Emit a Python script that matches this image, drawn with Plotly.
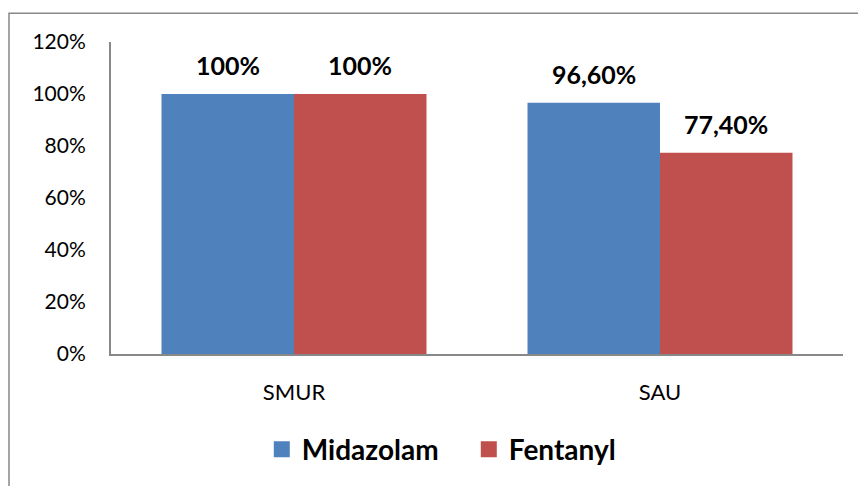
import plotly.graph_objects as go

categories = ["SMUR", "SAU"]
series_names = ["Midazolam", "Fentanyl"]
midazolam = [100, 96.6]
fentanyl = [100, 77.4]
midazolam_labels = ["100%", "96,60%"]
fentanyl_labels = ["100%", "77,40%"]
y_ticks = [0, 20, 40, 60, 80, 100, 120]
y_ticklabels = ["0%", "20%", "40%", "60%", "80%", "100%", "120%"]

BLUE = "#4F81BD"
RED = "#C0504D"
FONT = "Lato"

fig = go.Figure()
fig.add_trace(go.Bar(name=series_names[0], x=categories, y=midazolam, marker_color=BLUE,
                     marker_line_width=0, showlegend=False))
fig.add_trace(go.Bar(name=series_names[1], x=categories, y=fentanyl, marker_color=RED,
                     marker_line_width=0, showlegend=False))
# legend entries with larger square swatches
for name, col in zip(series_names, (BLUE, RED)):
    fig.add_trace(go.Scatter(x=[None], y=[None], mode="markers", name="<b>%s</b>" % name,
                             marker=dict(symbol="square", size=18, color=col), showlegend=True))

annotations = []
for i, c in enumerate(categories):
    for vals, labs, shift in ((midazolam, midazolam_labels, -66), (fentanyl, fentanyl_labels, 66)):
        annotations.append(dict(x=i, y=vals[i], xref="x", yref="y", text="<b>%s</b>" % labs[i],
                                showarrow=False, xshift=shift, yshift=12, yanchor="bottom",
                                font=dict(family=FONT, size=25, color="black")))

fig.update_layout(
    width=858, height=486,
    margin=dict(l=111, r=15, t=42, b=130),
    paper_bgcolor="white", plot_bgcolor="white",
    barmode="group", bargap=0.276, bargroupgap=0,
    showlegend=True,
    legend=dict(orientation="h", x=0.206, xanchor="left", y=-0.306, yanchor="middle",
                font=dict(family=FONT, size=28, color="black"), entrywidth=162,
                itemsizing="trace", itemclick=False),
    xaxis=dict(showline=True, linecolor="#888888", linewidth=2, ticks="",
               tickfont=dict(family=FONT, size=22, color="black"), ticklabelstandoff=18,
               range=[-0.5, 1.5]),
    yaxis=dict(range=[0, 120], tickvals=y_ticks, ticktext=y_ticklabels, showgrid=False,
               showline=True, linecolor="#888888", linewidth=2, ticks="", zeroline=False,
               tickfont=dict(family=FONT, size=21, color="black"), ticklabelstandoff=19),
    annotations=annotations,
    shapes=[dict(type="rect", xref="paper", yref="paper", x0=(9 - 111) / 732, x1=1.03,
                 y0=-0.45, y1=(356 - 13) / 314, line=dict(color="#888888", width=1.5),
                 fillcolor="rgba(0,0,0,0)", layer="below")],
)

fig.write_html("out.html", post_script="document.body.style.margin='0';",
               config={"displayModeBar": False})
